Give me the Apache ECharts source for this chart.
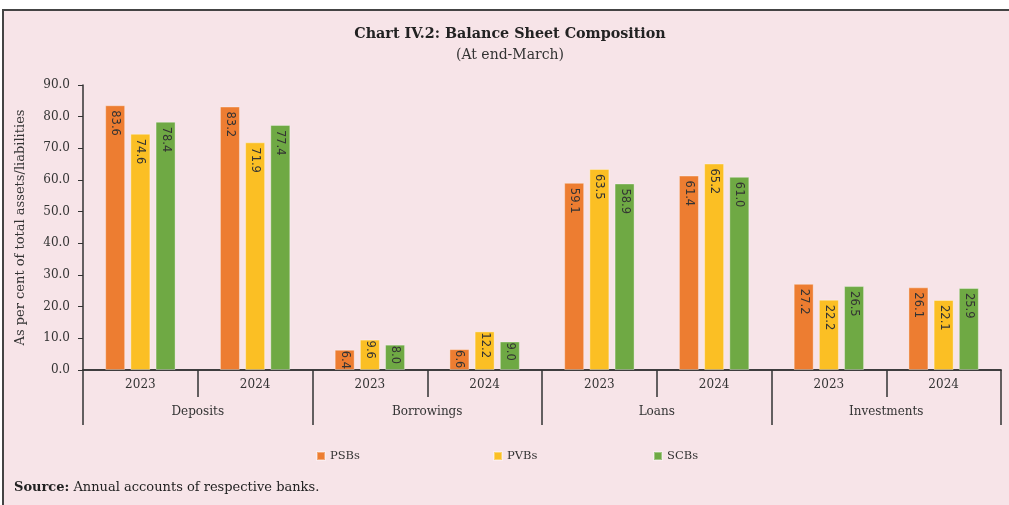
<!DOCTYPE html>
<html>
<head>
<meta charset="utf-8">
<style>
  html, body { margin: 0; padding: 0; background: #fff; }
  #chart { width: 1009px; height: 505px; }
</style>
<script src="https://cdn.jsdelivr.net/npm/echarts@6/dist/echarts.min.js"></script>
</head>
<body>
<div id="chart"></div>
<script>
// categories
const groups = ["Deposits", "Borrowings", "Loans", "Investments"];
const years = ["2023", "2024", "2023", "2024", "2023", "2024", "2023", "2024"];

// series values (per cent of total assets/liabilities)
const psbs = [83.6, 83.2, 6.4, 6.6, 59.1, 61.4, 27.2, 26.1];
const pvbs = [74.6, 71.9, 9.6, 12.2, 63.5, 65.2, 22.2, 22.1];
const scbs = [78.4, 77.4, 8.0, 9.0, 58.9, 61.0, 26.5, 25.9];

const serif = "DejaVu Serif";
const chart = echarts.init(document.getElementById("chart"));

function barSeries(name, data, color) {
  return {
    name: name,
    type: "bar",
    // short bars get their label pulled up to the top edge
    data: data.map((v) => (v < 15 ? { value: v, label: { distance: 1 } } : v)),
    barWidth: 20,
    barGap: "26%",
    itemStyle: { color: color, borderColor: "rgba(255,255,255,0.35)", borderWidth: 1 },
    label: {
      show: true,
      position: "insideTop",
      rotate: -90,
      align: "left",
      verticalAlign: "middle",
      distance: 5,
      fontFamily: "DejaVu Sans",
      fontSize: 11.5,
      color: "#333",
      formatter: (p) => p.value.toFixed(1),
    },
  };
}

function legendAt(name, left) {
  return {
    data: [name],
    left: left,
    top: 445,
    itemWidth: 8,
    itemHeight: 8,
    itemGap: 7,
    icon: "rect",
    textStyle: { fontFamily: serif, fontSize: 11.5, color: "#333" },
  };
}

const option = {
  animation: false,
  graphic: [
    {
      type: "rect",
      z: -10,
      shape: { x: 3, y: 10, width: 1020, height: 510 },
      style: { fill: "#f7e4e8", stroke: "#444", lineWidth: 2 },
    },
    {
      type: "text",
      left: 14,
      top: 481,
      style: {
        text: "{b|Source:} Annual accounts of respective banks.",
        rich: {
          b: { fontFamily: serif, fontWeight: "bold", fontSize: 13, fill: "#222" },
        },
        fontFamily: serif,
        fontSize: 13,
        fill: "#222",
      },
    },
  ],
  title: {
    text: "Chart IV.2: Balance Sheet Composition",
    subtext: "(At end-March)",
    left: 505,
    textAlign: "center",
    top: 22,
    itemGap: 7,
    textStyle: { fontFamily: serif, fontWeight: "bold", fontSize: 14.3, color: "#222" },
    subtextStyle: { fontFamily: serif, fontSize: 14, color: "#333" },
  },
  legend: [legendAt("PSBs", 311), legendAt("PVBs", 488), legendAt("SCBs", 648)],
  grid: { left: 83, right: 8, top: 85, bottom: 135 },
  xAxis: [
    {
      type: "category",
      data: years,
      position: "bottom",
      axisLine: { lineStyle: { color: "#333", width: 1.5 } },
      axisTick: { show: true, interval: 0, length: 27, lineStyle: { color: "#333", width: 1.5 } },
      axisLabel: { interval: 0, margin: 9, fontFamily: serif, fontSize: 12, color: "#333" },
    },
    {
      type: "category",
      data: groups,
      position: "bottom",
      axisLine: { lineStyle: { color: "#333", width: 1.5 } },
      axisTick: { show: true, interval: 0, length: 55, lineStyle: { color: "#333", width: 1.5 } },
      axisLabel: { interval: 0, margin: 36, fontFamily: serif, fontSize: 12, color: "#333" },
    },
  ],
  yAxis: {
    type: "value",
    min: 0,
    max: 90,
    interval: 10,
    name: "As per cent of total assets/liabilities",
    nameLocation: "middle",
    nameGap: 56,
    nameTextStyle: { fontFamily: serif, fontSize: 13, color: "#333" },
    axisLine: { show: true, lineStyle: { color: "#333", width: 1.5 } },
    axisTick: { show: true, length: 5, lineStyle: { color: "#333" } },
    splitLine: { show: false },
    axisLabel: {
      fontFamily: serif,
      fontSize: 12,
      color: "#333",
      margin: 13,
      formatter: (v) => v.toFixed(1),
    },
  },
  series: [
    barSeries("PSBs", psbs, "#ED7D31"),
    barSeries("PVBs", pvbs, "#FBBF24"),
    barSeries("SCBs", scbs, "#6FA944"),
  ],
};

chart.setOption(option);
</script>
</body>
</html>
